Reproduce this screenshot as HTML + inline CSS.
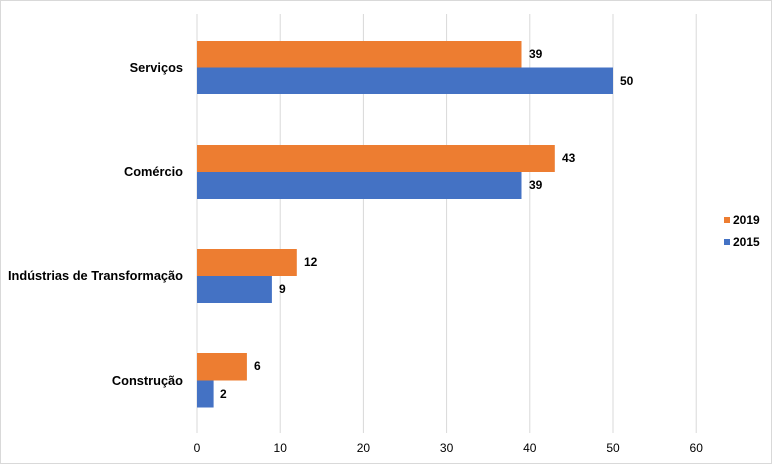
<!DOCTYPE html>
<html><head><style>
body{margin:0;background:#fff;}
svg text{font-family:"Liberation Sans",sans-serif;font-size:12px;fill:#000;}
</style></head><body>
<svg width="774" height="467" viewBox="0 0 774 467">
<rect x="0.5" y="0.5" width="771" height="463" fill="#fff" stroke="#d9d9d9"/>
<g stroke="#d9d9d9" stroke-width="1">
<line x1="280.2" y1="14" x2="280.2" y2="433"/>
<line x1="363.4" y1="14" x2="363.4" y2="433"/>
<line x1="446.6" y1="14" x2="446.6" y2="433"/>
<line x1="529.8" y1="14" x2="529.8" y2="433"/>
<line x1="613" y1="14" x2="613" y2="433"/>
<line x1="696.2" y1="14" x2="696.2" y2="433"/>
<line x1="197" y1="14" x2="197" y2="433"/>
</g>
<g>
<rect x="197" y="41" width="324.5" height="26.5" fill="#ed7d31"/>
<rect x="197" y="67.5" width="416" height="26.5" fill="#4472c4"/>
<rect x="197" y="145" width="357.8" height="27" fill="#ed7d31"/>
<rect x="197" y="172" width="324.5" height="27" fill="#4472c4"/>
<rect x="197" y="249" width="99.8" height="27" fill="#ed7d31"/>
<rect x="197" y="276" width="74.9" height="27" fill="#4472c4"/>
<rect x="197" y="353" width="49.9" height="27.5" fill="#ed7d31"/>
<rect x="197" y="380.5" width="16.6" height="27" fill="#4472c4"/>
</g>
<g font-weight="bold">
<text x="529" y="58">39</text>
<text x="620" y="85">50</text>
<text x="562" y="162">43</text>
<text x="529" y="189">39</text>
<text x="304" y="266">12</text>
<text x="279" y="293">9</text>
<text x="254" y="370">6</text>
<text x="220" y="398">2</text>
</g>
<g text-anchor="end" font-weight="bold">
<text x="183" y="72" style="font-size:12.8px">Serviços</text>
<text x="183" y="176" style="font-size:12.8px">Comércio</text>
<text x="183" y="280" style="font-size:12.8px" textLength="175" lengthAdjust="spacingAndGlyphs">Indústrias de Transformação</text>
<text x="183" y="385" style="font-size:12.8px">Construção</text>
</g>
<g text-anchor="middle">
<text x="197" y="452">0</text>
<text x="280.2" y="452">10</text>
<text x="363.4" y="452">20</text>
<text x="446.6" y="452">30</text>
<text x="529.8" y="452">40</text>
<text x="613" y="452">50</text>
<text x="696.2" y="452">60</text>
</g>
<rect x="724" y="217" width="6" height="6" fill="#ed7d31"/>
<text x="733" y="224" font-weight="bold">2019</text>
<rect x="724" y="239" width="6" height="6" fill="#4472c4"/>
<text x="733" y="246" font-weight="bold">2015</text>
</svg>
</body></html>
